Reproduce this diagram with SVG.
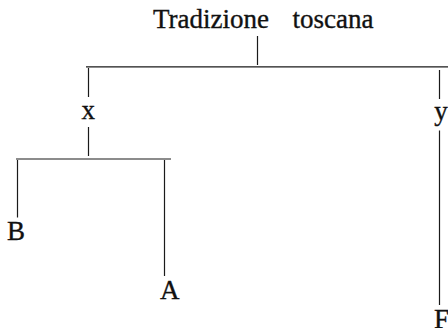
<svg xmlns="http://www.w3.org/2000/svg" width="448" height="328" viewBox="0 0 448 328">
  <style>
    .lbl { font-family: "Liberation Serif", "Times New Roman", serif; font-size: 27px; fill: #111; stroke: #111; stroke-width: 0.35; }
    .ln { stroke: #1a1a1a; stroke-width: 1.2; fill: none; }
  </style>
  <rect width="448" height="328" fill="#fff"/>

  <!-- stemma branches -->
  <g id="connectors">
    <line class="ln" x1="257.5" y1="36" x2="257.5" y2="65"/>
    <line class="ln" x1="86" y1="66.8" x2="448" y2="66.8"/>
    <line class="ln" x1="88.5" y1="68" x2="88.5" y2="97"/>
    <line class="ln" x1="439.5" y1="70" x2="439.5" y2="99"/>
    <line class="ln" x1="88.5" y1="127" x2="88.5" y2="156"/>
    <line class="ln" x1="16" y1="159" x2="171" y2="159"/>
    <line class="ln" x1="17.5" y1="160" x2="17.5" y2="217.5"/>
    <line class="ln" x1="164.5" y1="160" x2="164.5" y2="276"/>
    <line class="ln" x1="439.5" y1="130.5" x2="439.5" y2="305"/>
  </g>

  <g id="tradizione">
    <text class="lbl" x="153" y="28.3">Tradizione <tspan x="292.5">toscana</tspan></text>
  </g>
  <g id="x">
    <text class="lbl" x="88.3" y="119.3" text-anchor="middle">x</text>
  </g>
  <g id="y">
    <text class="lbl" x="441" y="120" text-anchor="middle">y</text>
  </g>
  <g id="B">
    <text class="lbl" x="7" y="239.5">B</text>
  </g>
  <g id="A">
    <text class="lbl" x="160" y="299.3">A</text>
  </g>
  <g id="F">
    <text class="lbl" x="434" y="328">F</text>
  </g>
</svg>
